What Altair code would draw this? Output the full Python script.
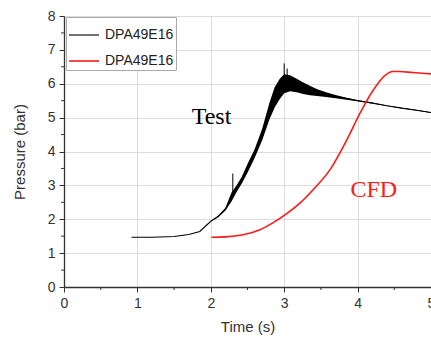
import altair as alt
import pandas as pd

# Test (measured) curve: centre line and noise envelope
test_t  = [0.92, 1.2, 1.5, 1.7, 1.85, 2.0, 2.1, 2.2, 2.28, 2.35, 2.42, 2.5, 2.6, 2.7, 2.8, 2.87, 2.94, 3.0, 3.08, 3.17, 3.26, 3.35, 3.45, 3.57, 3.7, 3.85, 4.0, 4.2, 4.4, 4.6, 4.8, 5.0]
test_p  = [1.47, 1.47, 1.49, 1.55, 1.64, 1.94, 2.08, 2.3, 2.65, 2.9, 3.15, 3.5, 3.95, 4.5, 5.2, 5.6, 5.85, 6.0, 6.02, 5.95, 5.87, 5.8, 5.74, 5.68, 5.62, 5.56, 5.5, 5.43, 5.35, 5.28, 5.22, 5.15]
test_lo = [1.47, 1.47, 1.49, 1.55, 1.64, 1.94, 2.06, 2.26, 2.52, 2.8, 3.05, 3.37, 3.82, 4.33, 4.95, 5.3, 5.55, 5.72, 5.78, 5.75, 5.7, 5.66, 5.64, 5.61, 5.57, 5.53, 5.48, 5.41, 5.34, 5.27, 5.21, 5.14]
test_hi = [1.47, 1.47, 1.49, 1.55, 1.64, 1.94, 2.1, 2.34, 2.78, 3.0, 3.25, 3.63, 4.08, 4.67, 5.45, 5.9, 6.15, 6.28, 6.25, 6.15, 6.04, 5.94, 5.84, 5.75, 5.67, 5.59, 5.52, 5.45, 5.36, 5.29, 5.23, 5.16]

# noise spikes
spike_t  = [2.3, 3.0, 3.04]
spike_lo = [2.7, 5.9, 5.9]
spike_hi = [3.35, 6.6, 6.45]

# CFD curve
cfd_t = [2.01, 2.2, 2.44, 2.67, 2.85, 3.01, 3.21, 3.41, 3.62, 3.85, 4.03, 4.21, 4.37, 4.48, 4.57, 4.75, 5.0]
cfd_p = [1.47, 1.48, 1.54, 1.69, 1.9, 2.13, 2.47, 2.91, 3.45, 4.33, 5.12, 5.80, 6.24, 6.36, 6.36, 6.33, 6.29]

series_names = ["Test", "CFD"]
legend_label = "DPA49E16"
series_colors = ["#000000", "#ff1a1a"]
series_widths = [1.1, 1.6]

x_ticks = [0, 1, 2, 3, 4, 5]
y_ticks = [0, 1, 2, 3, 4, 5, 6, 7, 8]
x_minor = [0.5, 1.5, 2.5, 3.5, 4.5]
y_minor = [0.5, 1.5, 2.5, 3.5, 4.5, 5.5, 6.5, 7.5]

ann_text = ["Test", "CFD"]
ann_t = [2.01, 4.22]
ann_p = [5.02, 2.86]
ann_color = ["#000000", "#ff1a1a"]

lines = pd.DataFrame(
    {"series": ["Test"] * len(test_t) + ["CFD"] * len(cfd_t),
     "t": test_t + cfd_t,
     "p": test_p + cfd_p}
)
env = pd.DataFrame({"t": test_t, "lo": test_lo, "hi": test_hi})
spikes = pd.DataFrame({"t": spike_t, "lo": spike_lo, "hi": spike_hi})
ann = pd.DataFrame({"text": ann_text, "t": ann_t, "p": ann_p, "c": ann_color})
xm = pd.DataFrame({"t": x_minor})
ym = pd.DataFrame({"p": y_minor})

xscale = alt.Scale(domain=[0, 5], nice=False)
yscale = alt.Scale(domain=[0, 8], nice=False)

xaxis = alt.Axis(title="Time (s)", values=x_ticks, format="d", labelFlush=False)
yaxis = alt.Axis(title="Pressure (bar)", values=y_ticks, format="d", labelOverlap=False)

X = lambda f: alt.X(f, scale=xscale, axis=xaxis)
Y = lambda f: alt.Y(f, scale=yscale, axis=yaxis)

band = alt.Chart(env).mark_area(color="black", opacity=1).encode(
    x=X("t:Q"), y=Y("lo:Q"), y2="hi:Q",
)

spike = alt.Chart(spikes).mark_rule(color="black", strokeWidth=1).encode(
    x=X("t:Q"), y=Y("lo:Q"), y2="hi:Q"
)

leg = alt.Legend(
    title=None, orient="none", legendX=2, legendY=1,
    labelExpr=f"'{legend_label}'",
    symbolType="stroke", symbolSize=900,
    labelFontSize=14, labelFont="Liberation Sans", labelColor="#222",
    strokeColor="#aaaaaa", fillColor="white", padding=2,
    labelOffset=5, rowPadding=3,
)

enc = dict(
    x=X("t:Q"),
    y=Y("p:Q"),
    color=alt.Color("series:N", scale=alt.Scale(domain=series_names, range=series_colors), legend=leg),
    strokeWidth=alt.StrokeWidth("series:N", scale=alt.Scale(domain=series_names, range=series_widths), legend=leg),
    order=alt.Order("t:Q"),
)

line_test = alt.Chart(lines).transform_filter(alt.datum.series == "Test").mark_line().encode(**enc)
line_cfd = alt.Chart(lines).transform_filter(alt.datum.series == "CFD").mark_line(interpolate="monotone").encode(**enc)

text = alt.Chart(ann).mark_text(font="Liberation Serif", fontSize=24, align="center", baseline="middle").encode(
    x=X("t:Q"), y=Y("p:Q"), text="text:N", color=alt.Color("c:N", scale=None)
)

xminor = alt.Chart(xm).mark_rule(color="#333", strokeWidth=1).encode(
    x=X("t:Q"), y=alt.value(271), y2=alt.value(274)
)
yminor = alt.Chart(ym).mark_rule(color="#333", strokeWidth=1).encode(
    y=Y("p:Q"), x=alt.value(-3), x2=alt.value(0)
)

chart = alt.layer(band, spike, line_test, line_cfd, text, xminor, yminor).properties(
    width=367, height=271,
    autosize=alt.AutoSizeParams(type="none"),
    padding={"left": 64, "top": 16, "right": 0, "bottom": 51},
    background="white",
).configure_view(stroke=None).configure_axis(
    grid=True, gridColor="#dcdcdc", gridWidth=1,
    domainColor="#333", domainWidth=1.3,
    tickColor="#333", tickSize=5, tickWidth=1,
    labelFont="Liberation Sans", labelFontSize=14, labelColor="#333",
    titleFont="Liberation Sans", titleFontSize=15, titleColor="#333", titleFontWeight="normal",
    labelPadding=4,
).configure_axisX(titlePadding=9).configure_axisY(titlePadding=20)

chart.save("out.html", embed_options={"renderer": "svg", "actions": False})
